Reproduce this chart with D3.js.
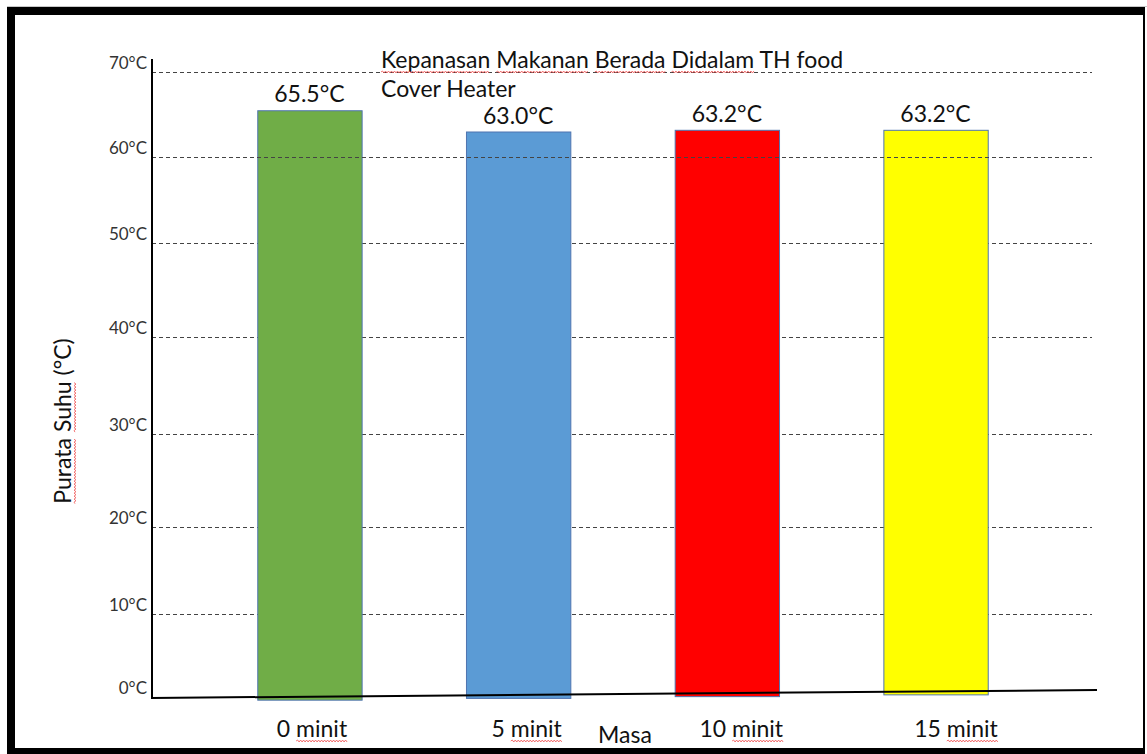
<!DOCTYPE html>
<html>
<head>
<meta charset="utf-8">
<script src="https://cdn.jsdelivr.net/npm/d3@7"></script>
<style>
    body { margin: 0; background: #fff; }
    svg { display: block; font-family: Lato, "Open Sans", sans-serif; }
</style>
</head>
<body>
<svg id="chart" width="1147" height="754"></svg>
<script>
// chart data
const categories = ["0 minit", "5 minit", "10 minit", "15 minit"];
const temps = [65.5, 63.0, 63.2, 63.2];
const valueLabels = ["65.5°C", "63.0°C", "63.2°C", "63.2°C"];
const barColors = ["#70AD47", "#5B9BD5", "#FF0000", "#FFFF00"];
const yTicks = [0, 10, 20, 30, 40, 50, 60, 70];
const yTickLabels = ["0°C", "10°C", "20°C", "30°C", "40°C", "50°C", "60°C", "70°C"];
const titleLines = ["Kepanasan Makanan Berada Didalam TH food", "Cover Heater"];
const xTitle = "Masa";
const yTitle = "Purata Suhu (°C)";

// layout (the original was drawn by hand, so the gridlines are not evenly spaced)
const axisX = 152, gridEnd = 1092, baseEnd = 1097;
const gridY = [697, 614, 527, 434, 337, 243, 157, 72];

const svg = d3.select("#chart");

const y = d3.scaleLinear().domain(yTicks).range(gridY);
const x = d3.scaleBand().domain(categories).range([150, 1095]).paddingInner(0.5).paddingOuter(0.514);
const xLabel = d3.scalePoint().domain(categories).range([312, 956]);

// the base line leans up a little towards the right
function baseY(px) {
    return 698 - (px - axisX) * 8 / (baseEnd - axisX);
}

function squiggle(g, x0, x1, yy) {
    let d = `M ${x0},${yy}`;
    let up = true;
    for (let px = x0 + 1.5; px <= x1; px += 1.5) {
        d += ` L ${px},${yy + (up ? -1 : 1)}`;
        up = !up;
    }
    g.append("path").attr("d", d).attr("fill", "none").attr("stroke", "#f05050").attr("stroke-width", 0.8);
}

// underline some words of a text element, like a spell checker does
function underlineWords(g, textSel, words, anchor, yy) {
    let node = textSel.node();
    let str = node.textContent;
    let total = node.getComputedTextLength();
    let tx = +textSel.attr("x");
    let left = anchor === "middle" ? tx - total / 2 : tx;
    words.forEach(w => {
        let i = str.indexOf(w);
        if (i < 0) return;
        let a = i > 0 ? node.getSubStringLength(0, i) : 0;
        let b = node.getSubStringLength(i, w.length);
        squiggle(g, left + a, left + a + b, yy);
    });
}

// frame
svg.append("line").attr("x1", 7).attr("x2", 1147).attr("y1", 6.5).attr("y2", 6.5).attr("stroke", "#c8c8c8");
svg.append("rect").attr("x", 7).attr("y", 7).attr("width", 1138).attr("height", 8).attr("fill", "#000");
svg.append("rect").attr("x", 7).attr("y", 7).attr("width", 8).attr("height", 747).attr("fill", "#000");
svg.append("rect").attr("x", 7).attr("y", 748).attr("width", 1138).attr("height", 6).attr("fill", "#000");
svg.append("rect").attr("x", 1143).attr("y", 7).attr("width", 2).attr("height", 747).attr("fill", "#000");

// gridlines
function drawGrid(ticks) {
    svg.append("g").selectAll("line").data(ticks).join("line")
        .attr("x1", axisX).attr("x2", gridEnd)
        .attr("y1", d => Math.round(y(d)) + 0.5).attr("y2", d => Math.round(y(d)) + 0.5)
        .attr("stroke", "#444").attr("stroke-width", 1).attr("stroke-dasharray", "4,3");
}
drawGrid(yTicks.filter(d => d > 0 && d < 60));

// bars
const bars = categories.map((c, i) => ({cat: c, value: temps[i], label: valueLabels[i], color: barColors[i]}));

svg.append("g").selectAll("rect").data(bars).join("rect")
    .attr("x", d => x(d.cat) + 0.5)
    .attr("y", d => y(d.value) + 0.5)
    .attr("width", x.bandwidth())
    .attr("height", d => baseY(x(d.cat) + x.bandwidth() / 2) + 3 - y(d.value))
    .attr("fill", d => d.color)
    .attr("stroke", "#4f74b0").attr("stroke-width", 1);

// the 60°C line sits on top of the bars in the original
drawGrid(yTicks.filter(d => d >= 60));

// axes
svg.append("line").attr("x1", axisX).attr("x2", axisX).attr("y1", 59).attr("y2", baseY(axisX) + 1)
    .attr("stroke", "#000").attr("stroke-width", 2);
svg.append("line").attr("x1", axisX - 1).attr("x2", baseEnd).attr("y1", baseY(axisX)).attr("y2", baseY(baseEnd))
    .attr("stroke", "#000").attr("stroke-width", 2);

// y tick labels
svg.append("g").selectAll("text").data(yTicks).join("text")
    .attr("x", 147).attr("y", d => y(d) - 3)
    .attr("text-anchor", "end").attr("font-size", 17).attr("fill", "#333")
    .text((d, i) => yTickLabels[i]);

// value labels
svg.append("g").selectAll("text").data(bars).join("text")
    .attr("x", d => x(d.cat) + x.bandwidth() / 2)
    .attr("y", d => y(d.value) - 8)
    .attr("text-anchor", "middle").attr("font-size", 23).attr("fill", "#111")
    .text(d => d.label);

// x labels
const xl = svg.append("g");
categories.forEach(c => {
    let t = xl.append("text").attr("x", xLabel(c)).attr("y", 737)
        .attr("text-anchor", "middle").attr("font-size", 23).attr("fill", "#111").text(c);
    underlineWords(xl, t, ["minit"], "middle", 741);
});

svg.append("text").attr("x", 598).attr("y", 743).attr("font-size", 23).attr("fill", "#111").text(xTitle);

// title
const tg = svg.append("g");
titleLines.forEach((line, i) => {
    let t = tg.append("text").attr("x", 381).attr("y", 68 + i * 29)
        .attr("font-size", 23).attr("fill", "#111").text(line);
    if (i === 0) underlineWords(tg, t, ["Kepanasan", "Makanan", "Berada", "Didalam"], "start", 72);
});

// y title
const yg = svg.append("g").attr("transform", "translate(71,421) rotate(-90)");
let yt = yg.append("text").attr("x", 0).attr("y", 0).attr("text-anchor", "middle")
    .attr("font-size", 23).attr("fill", "#111").text(yTitle);
underlineWords(yg, yt, ["Purata", "Suhu"], "middle", 4);
</script>
</body>
</html>
